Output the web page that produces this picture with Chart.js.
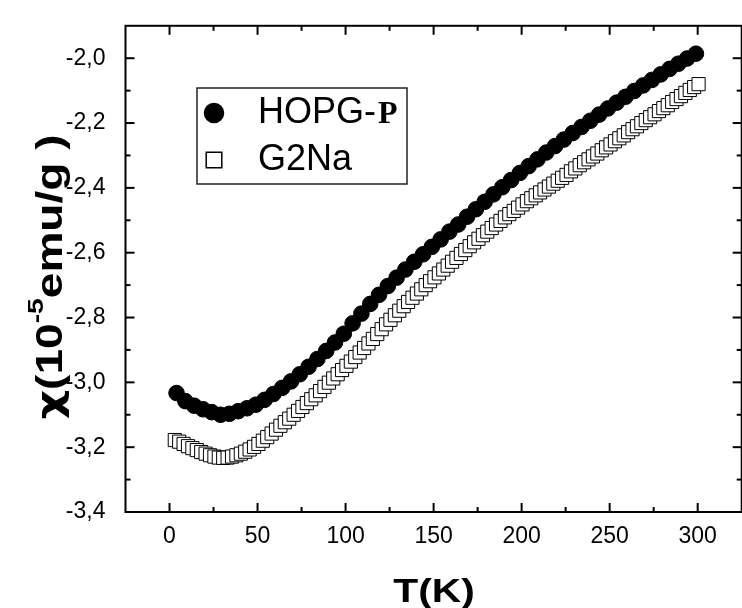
<!DOCTYPE html>
<html>
<head>
<meta charset="utf-8">
<script src="https://cdn.jsdelivr.net/npm/chart.js@4.4.1/dist/chart.umd.min.js"></script>
<style>
  html, body { margin: 0; padding: 0; background: #fff; overflow: hidden; }
  canvas { display: block; }
</style>
</head>
<body>
<canvas id="chiChart" width="752" height="608"></canvas>
<script>
// HOPG-P (filled circles)
const hopgT = [4, 9, 14, 19, 24, 29, 34, 39, 44, 49, 54, 59, 64, 69, 74, 79, 84, 89, 94, 99,
  104, 109, 114, 119, 124, 129, 134, 139, 144, 149, 154, 159, 164, 169, 174, 179, 184, 189, 194, 199,
  204, 209, 214, 219, 224, 229, 234, 239, 244, 249, 254, 259, 264, 269, 274, 279, 284, 289, 294, 299];
const hopgChi = [-3.033, -3.058, -3.072, -3.083, -3.092, -3.100, -3.097, -3.089, -3.080, -3.069,
  -3.054, -3.036, -3.017, -2.997, -2.975, -2.952, -2.928, -2.903, -2.877, -2.850,
  -2.818, -2.788, -2.758, -2.730, -2.703, -2.677, -2.652, -2.628, -2.605, -2.582,
  -2.559, -2.535, -2.513, -2.489, -2.466, -2.443, -2.420, -2.398, -2.376, -2.354,
  -2.333, -2.312, -2.291, -2.271, -2.251, -2.231, -2.212, -2.193, -2.174, -2.155,
  -2.137, -2.119, -2.101, -2.084, -2.067, -2.050, -2.033, -2.017, -2.001, -1.986];

// G2Na (open squares)
const g2naT = [3, 5.5, 8, 10.5, 13, 15.5, 18, 20.5, 23, 25.5, 28, 30.5, 33, 35.5, 38, 40.5, 43, 45.5, 48, 50.5,
  53, 55.5, 58, 60.5, 63, 65.5, 68, 70.5, 73, 75.5, 78, 80.5, 83, 85.5, 88, 90.5, 93, 95.5, 98, 100.5,
  103, 105.5, 108, 110.5, 113, 115.5, 118, 120.5, 123, 125.5, 128, 130.5, 133, 135.5, 138, 140.5, 143, 145.5, 148, 150.5,
  153, 155.5, 158, 160.5, 163, 165.5, 168, 170.5, 173, 175.5, 178, 180.5, 183, 185.5, 188, 190.5, 193, 195.5, 198, 200.5,
  203, 205.5, 208, 210.5, 213, 215.5, 218, 220.5, 223, 225.5, 228, 230.5, 233, 235.5, 238, 240.5, 243, 245.5, 248, 250.5,
  253, 255.5, 258, 260.5, 263, 265.5, 268, 270.5, 273, 275.5, 278, 280.5, 283, 285.5, 288, 290.5, 293, 295.5, 298, 300.5];
const g2naChi = [-3.178, -3.183, -3.190, -3.197, -3.203, -3.209, -3.215, -3.220, -3.225, -3.229,
  -3.232, -3.233, -3.232, -3.229, -3.225, -3.220, -3.214, -3.207, -3.199, -3.190,
  -3.180, -3.169, -3.158, -3.146, -3.134, -3.123, -3.112, -3.100, -3.088, -3.076,
  -3.064, -3.052, -3.040, -3.027, -3.014, -3.001, -2.988, -2.975, -2.962, -2.949,
  -2.936, -2.922, -2.908, -2.894, -2.880, -2.866, -2.851, -2.836, -2.821, -2.807,
  -2.793, -2.779, -2.765, -2.752, -2.739, -2.726, -2.713, -2.700, -2.688, -2.676,
  -2.664, -2.652, -2.640, -2.628, -2.616, -2.604, -2.592, -2.580, -2.568, -2.557,
  -2.546, -2.535, -2.524, -2.513, -2.502, -2.491, -2.481, -2.471, -2.461, -2.451,
  -2.441, -2.432, -2.423, -2.414, -2.405, -2.396, -2.387, -2.378, -2.369, -2.360,
  -2.349, -2.340, -2.330, -2.321, -2.312, -2.303, -2.294, -2.284, -2.275, -2.266,
  -2.256, -2.247, -2.238, -2.228, -2.219, -2.210, -2.200, -2.191, -2.182, -2.173,
  -2.163, -2.154, -2.145, -2.135, -2.126, -2.117, -2.107, -2.098, -2.089, -2.080];

const seriesNames = ["HOPG-P", "G2Na"];
const xTicks = [0, 50, 100, 150, 200, 250, 300];
const xMinorTicks = [25, 75, 125, 175, 225, 275];
const yTicks = [-2.0, -2.2, -2.4, -2.6, -2.8, -3.0, -3.2, -3.4];
const yMinorTicks = [-2.1, -2.3, -2.5, -2.7, -2.9, -3.1, -3.3];
const xTitle = "T(K)";

const toPoints = (xs, ys) => xs.map((v, i) => ({ x: v, y: ys[i] }));
const sans = "'Liberation Sans', Arial, sans-serif";

// frame with inward ticks on all four sides, titles and legend
const framePlugin = {
  id: "frame",
  beforeDatasetsDraw(chart) {
    const { ctx, chartArea: a, scales: { x, y } } = chart;
    ctx.save();
    ctx.strokeStyle = "#000";
    ctx.lineWidth = 2;
    ctx.strokeRect(a.left, a.top, a.right - a.left, a.bottom - a.top);
    const line = (x1, y1, x2, y2) => {
      ctx.beginPath();
      ctx.moveTo(x1, y1);
      ctx.lineTo(x2, y2);
      ctx.stroke();
    };
    xTicks.forEach((v) => {
      const px = x.getPixelForValue(v);
      line(px, a.bottom, px, a.bottom - 9);
      line(px, a.top, px, a.top + 9);
    });
    xMinorTicks.forEach((v) => {
      const px = x.getPixelForValue(v);
      line(px, a.bottom, px, a.bottom - 5);
      line(px, a.top, px, a.top + 5);
    });
    yTicks.forEach((v) => {
      const py = y.getPixelForValue(v);
      line(a.left, py, a.left + 9, py);
      line(a.right, py, a.right - 9, py);
    });
    yMinorTicks.forEach((v) => {
      const py = y.getPixelForValue(v);
      line(a.left, py, a.left + 5, py);
      line(a.right, py, a.right - 5, py);
    });
    ctx.restore();
  },
  afterDraw(chart) {
    const ctx = chart.ctx;
    ctx.save();
    ctx.fillStyle = "#000";

    // x title
    ctx.font = "bold 34px " + sans;
    ctx.textAlign = "center";
    ctx.textBaseline = "alphabetic";
    ctx.save();
    ctx.translate(434, 602);
    ctx.scale(1.2, 1);
    ctx.fillText(xTitle, 0, 0);
    ctx.restore();

    // y title  χ(10^-5 emu/g )
    const chi = "bold 36px 'DejaVu Sans', sans-serif";
    const big = "bold 36px " + sans;
    const small = "bold 22px " + sans;
    const parts = [["χ", chi, 0], ["(10", big, 0], ["-5", small, -19], ["emu/g )", big, 0]];
    ctx.save();
    ctx.translate(62, 277);
    ctx.rotate(-Math.PI / 2);
    ctx.scale(1.28, 1);
    let total = 0;
    parts.forEach((p) => { ctx.font = p[1]; total += ctx.measureText(p[0]).width; });
    let cx = -total / 2;
    ctx.textAlign = "left";
    parts.forEach((p) => {
      ctx.font = p[1];
      ctx.fillText(p[0], cx, p[2]);
      cx += ctx.measureText(p[0]).width;
    });
    ctx.restore();

    // legend box
    ctx.strokeStyle = "#222";
    ctx.lineWidth = 1.5;
    ctx.strokeRect(197, 88, 210, 96);
    const rows = [123, 170];
    chart.data.datasets.forEach((ds, i) => {
      ctx.fillStyle = ds.backgroundColor;
      ctx.strokeStyle = ds.borderColor;
      ctx.lineWidth = 1.5;
      Chart.helpers.drawPoint(ctx, { pointStyle: ds.pointStyle, radius: i === 0 ? 9.5 : 11, borderWidth: 1.5 }, 214, rows[i] - 10);
      ctx.fillStyle = "#000";
      ctx.textAlign = "left";
      let label = ds.label;
      let tail = "";
      if (label.endsWith("-P")) { tail = "P"; label = label.slice(0, -1); }
      ctx.font = "36px " + sans;
      ctx.fillText(label, 258, rows[i]);
      if (tail) {
        const w = ctx.measureText(label).width;
        ctx.font = "bold 32px 'Liberation Serif', 'Times New Roman', serif";
        ctx.fillText(tail, 258 + w + 2, rows[i]);
      }
    });
    ctx.restore();
  },
};

const ctx = document.getElementById("chiChart").getContext("2d");

const chart = new Chart(ctx, {
  type: "scatter",
  data: {
    datasets: [
      {
        label: seriesNames[0],
        data: toPoints(hopgT, hopgChi),
        pointStyle: "circle",
        pointRadius: 7.8,
        backgroundColor: "#000",
        borderColor: "#000",
        borderWidth: 1,
      },
      {
        label: seriesNames[1],
        data: toPoints(g2naT, g2naChi),
        pointStyle: "rect",
        pointRadius: 9.3,
        backgroundColor: "#fff",
        borderColor: "#000",
        borderWidth: 1,
      },
    ],
  },
  options: {
    responsive: false,
    animation: false,
    layout: { padding: { top: 9.5, right: 8, left: 0, bottom: 0 } },
    scales: {
      x: {
        type: "linear",
        min: -25,
        max: 325,
        grid: { display: false },
        border: { display: false },
        afterBuildTicks: (s) => { s.ticks = xTicks.map((v) => ({ value: v })); },
        afterFit: (s) => { s.height = 96; },
        ticks: {
          padding: 3,
          color: "#000",
          font: { family: sans, size: 23 },
        },
      },
      y: {
        type: "linear",
        min: -3.4,
        max: -1.9,
        grid: { display: false },
        border: { display: false },
        afterBuildTicks: (s) => { s.ticks = yTicks.map((v) => ({ value: v })); },
        afterFit: (s) => { s.width = 125.5; },
        ticks: {
          padding: 12,
          color: "#000",
          font: { family: sans, size: 23 },
          callback: (v) => v.toFixed(1).replace(".", ","),
        },
      },
    },
    plugins: {
      legend: { display: false },
      tooltip: { enabled: false },
    },
  },
  plugins: [framePlugin],
});
</script>
</body>
</html>
